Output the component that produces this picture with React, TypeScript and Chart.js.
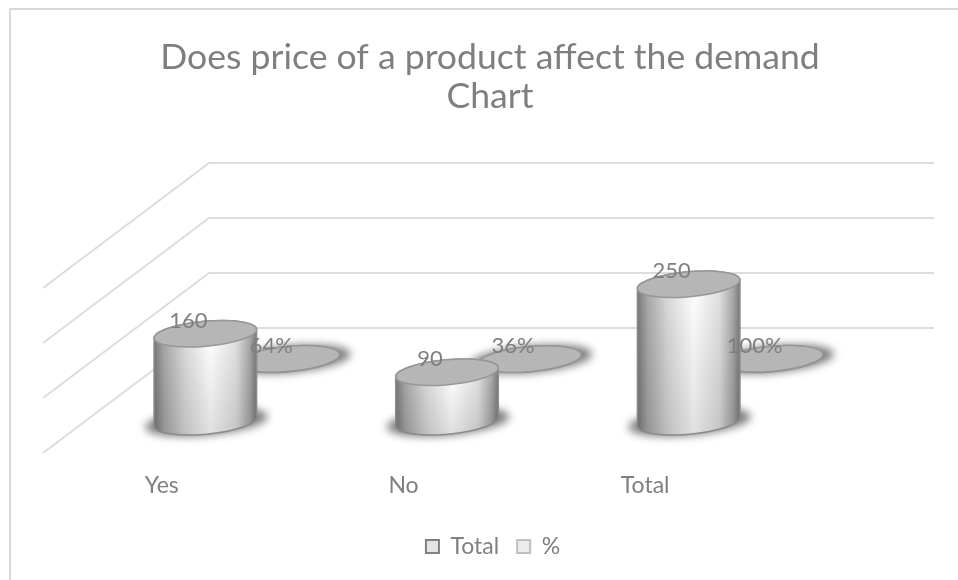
import React, { useEffect, useRef } from "react";
import { Chart, registerables } from "chart.js";

Chart.register(...registerables);

const categories = ["Yes", "No", "Total"];
const totalValues = [160, 90, 250];
const percentValues = [0.64, 0.36, 1];
const titleLines = ["Does price of a product affect the demand", "Chart"];

const FONT = "Lato";
const TEXT = "#7f7f7f";
const DEPTH_DX = 166;
const DEPTH_DY = 125;
const ROT = -0.09;
const RY = 12.5;

function cylinder(ctx: CanvasRenderingContext2D, cx: number, ty: number, by: number, rx: number) {
  ctx.save();
  ctx.filter = "blur(4px)";
  ctx.fillStyle = "#7c7c7c";
  ctx.beginPath();
  ctx.ellipse(cx + 1, by, rx + 10, RY + 1, ROT, 0, Math.PI * 2);
  ctx.fill();
  ctx.restore();

  const g = ctx.createLinearGradient(cx - rx, 0, cx + rx, 0);
  g.addColorStop(0, "#787878");
  g.addColorStop(0.1, "#a8a8a8");
  g.addColorStop(0.3, "#dadada");
  g.addColorStop(0.55, "#ffffff");
  g.addColorStop(0.8, "#e0e0e0");
  g.addColorStop(0.93, "#a8a8a8");
  g.addColorStop(1, "#787878");
  ctx.beginPath();
  ctx.ellipse(cx, by, rx, RY, ROT, 0, Math.PI, false);
  ctx.ellipse(cx, ty, rx, RY, ROT, Math.PI, 0, false);
  ctx.closePath();
  ctx.fillStyle = g;
  ctx.fill();
  const v = ctx.createLinearGradient(0, ty, 0, by + RY);
  v.addColorStop(0, "rgba(0,0,0,0)");
  v.addColorStop(1, "rgba(0,0,0,0.12)");
  ctx.fillStyle = v;
  ctx.fill();
  ctx.strokeStyle = "#8a8a8a";
  ctx.lineWidth = 1.5;
  ctx.stroke();

  ctx.beginPath();
  ctx.ellipse(cx, ty, rx, RY, ROT, 0, Math.PI * 2);
  ctx.fillStyle = "#b6b6b6";
  ctx.fill();
  ctx.strokeStyle = "#979797";
  ctx.stroke();
}

const cylinderPlugin = {
  id: "cylinders",
  afterLayout(chart: any) {
    chart.legend.left += 3;
    chart.legend.right += 3;
  },
  beforeDatasetsDraw(chart: any) {
    const { ctx, chartArea, scales } = chart;
    ctx.save();
    ctx.strokeStyle = "#dcdcdc";
    ctx.lineWidth = 2;
    scales.y.ticks.forEach((t: any) => {
      const y = scales.y.getPixelForValue(t.value);
      ctx.beginPath();
      ctx.moveTo(chartArea.left, y);
      ctx.lineTo(chartArea.left + DEPTH_DX, y - DEPTH_DY);
      ctx.lineTo(chartArea.right + DEPTH_DX, y - DEPTH_DY);
      ctx.stroke();
    });
    const series = [
      { index: 1, depth: 0.75, fmt: (v: number) => Math.round(v * 100) + "%" },
      { index: 0, depth: 0.25, fmt: (v: number) => String(v) },
    ];
    series.forEach((s) => {
      chart.getDatasetMeta(s.index).data.forEach((bar: any) => {
        cylinder(
          ctx,
          bar.x + DEPTH_DX * s.depth,
          bar.y - DEPTH_DY * s.depth,
          bar.base - DEPTH_DY * s.depth,
          bar.width / 2
        );
      });
    });
    ctx.font = `22px ${FONT}`;
    ctx.fillStyle = TEXT;
    ctx.textAlign = "center";
    ctx.textBaseline = "middle";
    series.forEach((s) => {
      const values = chart.data.datasets[s.index].data;
      chart.getDatasetMeta(s.index).data.forEach((bar: any, i: number) => {
        ctx.fillText(
          s.fmt(values[i]),
          bar.x + DEPTH_DX * s.depth - 17,
          bar.y - DEPTH_DY * s.depth - 13
        );
      });
    });
    ctx.restore();
  },
  beforeDatasetDraw() {
    return false;
  },
};

export default function App() {
  const ref = useRef<HTMLCanvasElement>(null);
  useEffect(() => {
    const chart = new Chart(ref.current!, {
      type: "bar",
      data: {
        labels: categories,
        datasets: [
          { label: "Total", data: totalValues, backgroundColor: "#e4e4e4", borderColor: "#808080", borderWidth: 2 },
          { label: "%", data: percentValues, backgroundColor: "#ececec", borderColor: "#c0c0c0", borderWidth: 2 },
        ],
      },
      options: {
        responsive: false,
        animation: false,
        layout: { padding: { left: 43, right: 21, top: 20, bottom: 12 } },
        datasets: { bar: { grouped: false, categoryPercentage: 1, barPercentage: 0.426 } },
        scales: {
          x: {
            grid: { display: false, drawTicks: false },
            border: { display: false },
            ticks: { color: TEXT, font: { family: FONT, size: 23 }, padding: 19, labelOffset: -2 },
            afterFit: (s: any) => { s.height = 64; },
          },
          y: {
            position: "right",
            min: 0,
            max: 300,
            grid: { display: false, drawTicks: false },
            border: { display: false },
            ticks: { display: false, stepSize: 100 },
            afterFit: (s: any) => { s.width = 169; },
          },
        },
        plugins: {
          tooltip: { enabled: false },
          title: {
            display: true,
            text: titleLines,
            color: TEXT,
            font: { family: FONT, size: 35.6, weight: "normal", lineHeight: 39 / 35.6 },
            padding: { top: 18, bottom: 172 },
          },
          legend: {
            position: "bottom",
            labels: { color: TEXT, font: { family: FONT, size: 23 }, boxWidth: 13, boxHeight: 13, padding: 18 },
          },
        },
      },
      plugins: [cylinderPlugin],
    } as any);
    return () => chart.destroy();
  }, []);
  return (
    <div style={{ position: "fixed", left: 0, top: 0, width: 958, height: 580, background: "#fff", overflow: "hidden" }}>
      <div style={{ position: "absolute", left: 9, top: 8, right: 0, bottom: 0, borderTop: "2px solid #d9d9d9", borderLeft: "2px solid #d9d9d9" }} />
      <canvas ref={ref} width={958} height={580} style={{ position: "absolute", left: 0, top: 0, display: "block" }} />
    </div>
  );
}
